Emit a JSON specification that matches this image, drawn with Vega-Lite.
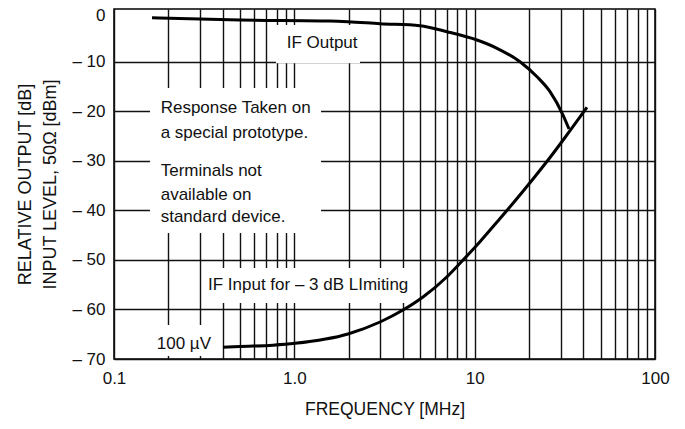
{
  "$schema": "https://vega.github.io/schema/vega-lite/v6.json",
  "width": 541,
  "height": 350,
  "autosize": "none",
  "padding": {"left": 114, "top": 9, "right": 30, "bottom": 70},
  "background": "white",
  "config": {
    "font": "Liberation Sans",
    "view": {"stroke": "#000", "strokeWidth": 1.5},
    "axis": {
      "domain": false,
      "ticks": false,
      "grid": true,
      "gridColor": "#111",
      "gridWidth": 1.4,
      "labelFont": "Liberation Sans",
      "labelFontSize": 17,
      "labelColor": "#111",
      "labelFlush": false,
      "titleFont": "Liberation Sans",
      "titleFontWeight": "normal",
      "titleColor": "#111",
      "labelOverlap": false
    }
  },
  "datasets": {
    "ifout": [
      {"f": 0.1625, "db": -1.11},
      {"f": 0.4996, "db": -1.57},
      {"f": 1.577, "db": -1.77},
      {"f": 1.984, "db": -1.91},
      {"f": 2.986, "db": -2.32},
      {"f": 4.977, "db": -2.72},
      {"f": 7.025, "db": -3.93},
      {"f": 10.3, "db": -5.61},
      {"f": 13.3, "db": -7.28},
      {"f": 17.84, "db": -9.99},
      {"f": 22.17, "db": -13.02},
      {"f": 26.17, "db": -16.04},
      {"f": 30.9, "db": -20.75},
      {"f": 33.37, "db": -23.57}
    ],
    "ifin": [
      {"f": 0.402, "db": -67.64},
      {"f": 0.4996, "db": -67.47},
      {"f": 0.761, "db": -67.2},
      {"f": 1.009, "db": -66.83},
      {"f": 1.984, "db": -64.95},
      {"f": 2.986, "db": -62.53},
      {"f": 4.005, "db": -60.11},
      {"f": 5.17, "db": -57.48},
      {"f": 7.025, "db": -53.39},
      {"f": 8.29, "db": -50.68},
      {"f": 10.7, "db": -46.32},
      {"f": 13.3, "db": -42.35},
      {"f": 16.32, "db": -38.57},
      {"f": 21.06, "db": -33.67},
      {"f": 26.17, "db": -29.33},
      {"f": 31.7, "db": -25.29},
      {"f": 41.98, "db": -19.19}
    ],
    "boxes": [
      {"f1": 0.791, "f2": 2.313, "d1": -2.58, "d2": -10.3},
      {"f1": 0.1583, "f2": 1.406, "d1": -15.3, "d2": -44.57},
      {"f1": 0.3197, "f2": 4.73, "d1": -51.63, "d2": -58.7},
      {"f1": 0.1583, "f2": 0.3823, "d1": -63.13, "d2": -69.39}
    ],
    "notes": [
      {"f": 0.907, "db": -6.21, "label": "IF Output"},
      {"f": 0.1815, "db": -19.33, "label": "Response Taken on"},
      {"f": 0.1815, "db": -24.32, "label": "a special prototype."},
      {"f": 0.1815, "db": -31.99, "label": "Terminals not"},
      {"f": 0.1815, "db": -36.9, "label": "available on"},
      {"f": 0.1815, "db": -41.34, "label": "standard device."},
      {"f": 0.332, "db": -55.06, "label": "IF Input for – 3 dB LImiting"},
      {"f": 0.1726, "db": -66.97, "label": "100 µV"}
    ]
  },
  "layer": [
    {
      "data": {"name": "boxes"},
      "mark": {"type": "rect", "fill": "white", "stroke": null},
      "encoding": {
        "x": {
          "field": "f1", "type": "quantitative",
          "scale": {"type": "log", "domain": [0.1, 100], "nice": false},
          "axis": {
            "values": [0.1, 0.2, 0.3, 0.4, 0.5, 0.6, 0.7, 0.8, 0.9, 1, 2, 3, 4, 5, 6, 7, 8, 9, 10, 20, 30, 40, 50, 60, 70, 80, 90, 100],
            "labelExpr": "datum.value == 0.1 ? '0.1' : datum.value == 1 ? '1.0' : datum.value == 10 ? '10' : datum.value == 100 ? '100' : ''",
            "labelPadding": 11,
            "title": "FREQUENCY [MHz]",
            "titleFontSize": 17.5,
            "titlePadding": 14
          }
        },
        "x2": {"field": "f2"},
        "y": {
          "field": "d1", "type": "quantitative",
          "scale": {"domain": [-70, 0.65], "nice": false, "zero": false},
          "axis": {
            "values": [-70, -60, -50, -40, -30, -20, -10, 0],
            "labelExpr": "datum.value == 0 ? '0' : '– ' + abs(datum.value)",
            "gridOpacity": {"condition": {"test": "datum.value == 0", "value": 0}, "value": 1},
            "labelOffset": {"condition": {"test": "datum.value == 0", "value": 3}, "value": 0},
            "labelPadding": 9,
            "title": ["RELATIVE OUTPUT [dB]", "INPUT LEVEL, 50Ω [dBm]"],
            "titleFontSize": 18,
            "titleLineHeight": 25,
            "titlePadding": 12
          }
        },
        "y2": {"field": "d2"}
      }
    },
    {
      "data": {"name": "ifout"},
      "mark": {"type": "line", "color": "#000", "strokeWidth": 3, "interpolate": "monotone"},
      "encoding": {
        "x": {"field": "f", "type": "quantitative"},
        "y": {"field": "db", "type": "quantitative"}
      }
    },
    {
      "data": {"name": "ifin"},
      "mark": {"type": "line", "color": "#000", "strokeWidth": 3, "interpolate": "monotone"},
      "encoding": {
        "x": {"field": "f", "type": "quantitative"},
        "y": {"field": "db", "type": "quantitative"}
      }
    },
    {
      "data": {"name": "notes"},
      "mark": {"type": "text", "align": "left", "baseline": "middle", "fontSize": 17, "color": "#111", "font": "Liberation Sans"},
      "encoding": {
        "x": {"field": "f", "type": "quantitative"},
        "y": {"field": "db", "type": "quantitative"},
        "text": {"field": "label", "type": "nominal"}
      }
    }
  ]
}
